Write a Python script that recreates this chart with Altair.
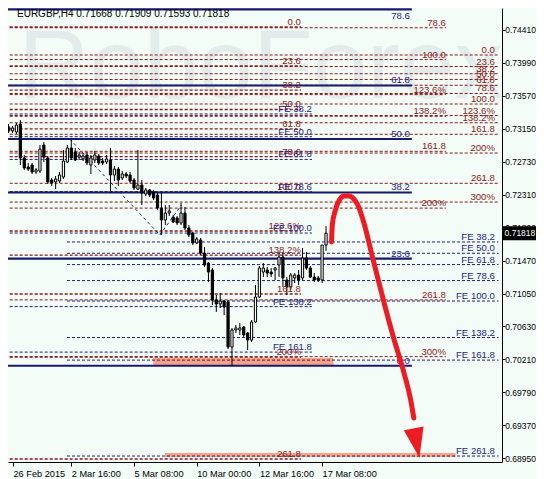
import altair as alt
import pandas as pd

FONT = "Liberation Sans, Arial, sans-serif"
BG = "#F3FCF7"
MAROON = "#8E1414"
MAROON_TXT = "#8B1A1A"
NAVY = "#191970"
NAVY_D = "#1E1E86"
RED = "#EC1C24"
SALMON = "#FBA283"

symbol = "EURGBP,H4"
ohlc_last = ["0.71668", "0.71909", "0.71593", "0.71818"]
last_price = 0.71818

# ---------------- candles (H4 bars, index 0 = 26 Feb 2015) ----------------
opens = [0.73173, 0.73122, 0.73109, 0.73211, 0.72778, 0.72663, 0.72688, 0.72599, 0.72612, 0.72943,
         0.72778, 0.72497, 0.72472, 0.72484, 0.72535, 0.72727, 0.72905, 0.72854, 0.72790, 0.72765,
         0.72816, 0.72688, 0.72752, 0.72803, 0.72739, 0.72727, 0.72752, 0.72561, 0.72637, 0.72523,
         0.72574, 0.72561, 0.72497, 0.72382, 0.72433, 0.72319, 0.72370, 0.72344, 0.72306, 0.72140,
         0.71987, 0.72076, 0.72025, 0.72013, 0.71949, 0.72076, 0.71885, 0.71821, 0.71694, 0.71732,
         0.71566, 0.71439, 0.71350, 0.70967, 0.70916, 0.70954, 0.70942, 0.70368, 0.70585, 0.70585,
         0.70623, 0.70547, 0.70457, 0.70687, 0.71005, 0.71324, 0.71350, 0.71324, 0.71350, 0.71413,
         0.71515, 0.71222, 0.71133, 0.71248, 0.71286, 0.71248, 0.71503, 0.71375, 0.71260, 0.71248,
         0.71222, 0.71668]
highs = [0.73211, 0.73186, 0.73224, 0.73262, 0.72816, 0.72714, 0.72714, 0.72650, 0.72943, 0.72981,
         0.72803, 0.72523, 0.72548, 0.72599, 0.72880, 0.72943, 0.73007, 0.72905, 0.72854, 0.72841,
         0.72854, 0.72816, 0.72867, 0.72829, 0.72778, 0.72816, 0.72905, 0.72676, 0.72663, 0.72612,
         0.72599, 0.72599, 0.72523, 0.72880, 0.72497, 0.72395, 0.72382, 0.72370, 0.72331, 0.72344,
         0.72178, 0.72178, 0.72051, 0.72038, 0.72204, 0.72153, 0.71923, 0.71834, 0.71770, 0.71758,
         0.71643, 0.71452, 0.71375, 0.71031, 0.71056, 0.70967, 0.70967, 0.70611, 0.70649, 0.70674,
         0.70636, 0.70560, 0.70712, 0.71158, 0.71401, 0.71439, 0.71388, 0.71375, 0.71388, 0.71579,
         0.71579, 0.71260, 0.71311, 0.71311, 0.71350, 0.71630, 0.71579, 0.71401, 0.71311, 0.71273,
         0.71668, 0.71909]
lows = [0.73096, 0.73096, 0.73084, 0.72688, 0.72625, 0.72612, 0.72574, 0.72574, 0.72586, 0.72727,
        0.72446, 0.72421, 0.72382, 0.72459, 0.72510, 0.72714, 0.72752, 0.72739, 0.72752, 0.72739,
        0.72688, 0.72574, 0.72714, 0.72688, 0.72688, 0.72701, 0.72331, 0.72484, 0.72421, 0.72497,
        0.72523, 0.72459, 0.72370, 0.72370, 0.72178, 0.72293, 0.72280, 0.72242, 0.72115, 0.71796,
        0.71923, 0.72038, 0.71949, 0.71923, 0.71923, 0.71860, 0.71770, 0.71668, 0.71681, 0.71541,
        0.71388, 0.71197, 0.70903, 0.70814, 0.70865, 0.70776, 0.70343, 0.70126, 0.70547, 0.70521,
        0.70496, 0.70330, 0.70432, 0.70674, 0.70993, 0.71260, 0.71260, 0.71260, 0.71222, 0.71260,
        0.71133, 0.71031, 0.71095, 0.71184, 0.71158, 0.71222, 0.71350, 0.71248, 0.71197, 0.71197,
        0.71184, 0.71593]
closes = [0.73122, 0.73160, 0.73198, 0.72778, 0.72650, 0.72637, 0.72599, 0.72625, 0.72892, 0.72790,
          0.72472, 0.72459, 0.72510, 0.72561, 0.72739, 0.72905, 0.72778, 0.72752, 0.72816, 0.72803,
          0.72714, 0.72778, 0.72816, 0.72714, 0.72714, 0.72765, 0.72561, 0.72637, 0.72497, 0.72574,
          0.72548, 0.72484, 0.72395, 0.72433, 0.72331, 0.72370, 0.72306, 0.72268, 0.72140, 0.71987,
          0.72076, 0.72102, 0.71962, 0.71949, 0.72076, 0.71885, 0.71796, 0.71694, 0.71745, 0.71566,
          0.71413, 0.71324, 0.70967, 0.70916, 0.70954, 0.70878, 0.70368, 0.70585, 0.70611, 0.70611,
          0.70521, 0.70457, 0.70687, 0.71005, 0.71375, 0.71375, 0.71311, 0.71299, 0.71375, 0.71515,
          0.71248, 0.71133, 0.71286, 0.71286, 0.71222, 0.71503, 0.71375, 0.71260, 0.71222, 0.71222,
          0.71668, 0.71818]

# ---------------- axes ----------------
tick_bars = [1.125, 16, 32, 48, 64, 80]
tick_labels = ["26 Feb 2015", "2 Mar 16:00", "5 Mar 08:00", "10 Mar 00:00", "12 Mar 16:00", "17 Mar 08:00"]
price_ticks = [0.74410, 0.73990, 0.73570, 0.73150, 0.72730, 0.72310, 0.71890,
               0.71470, 0.71050, 0.70630, 0.70210, 0.69790, 0.69370, 0.68950]

# ---------------- Fibonacci retracement A (full width) ----------------
fibA_labels = ["0.0", "23.6", "38.2", "50.0", "61.8", "78.6", "100.0", "123.6%", "138.2%", "161.8", "200%", "261.8", "300%"]
fibA_prices = [0.74091, 0.73944, 0.73852, 0.73779, 0.73705, 0.73600, 0.73466, 0.73319, 0.73227, 0.73080, 0.72841, 0.72455, 0.72216]
fibA_span = [-1, 125, 124.1]

# ---------------- Fibonacci retracement B ----------------
fibB_labels = ["0.0", "23.6", "38.2", "50.0", "61.8", "78.6", "100.0", "123.6%", "138.2%", "161.8", "200%", "261.8"]
fibB_prices = [0.74448, 0.73951, 0.73644, 0.73396, 0.73148, 0.72794, 0.72344, 0.71847, 0.71540, 0.71044, 0.70240, 0.68940]
fibB_span = [-1, 74.6, 74.6]

# ---------------- Fibonacci retracement C ----------------
fibC_labels = ["78.6", "100.0", "123.6%", "138.2%", "161.8", "200%", "261.8", "300%"]
fibC_prices = [0.74438, 0.74033, 0.73586, 0.73310, 0.72863, 0.72139, 0.70969, 0.70245]
fibC_span = [-1, 111.6, 111.6]

# ---------------- Fibonacci retracement D (solid navy) ----------------
fibD_labels = ["0.0", "23.6", "38.2", "50.0", "61.8", "78.6"]
fibD_prices = [0.70129, 0.71494, 0.72338, 0.73020, 0.73702, 0.74673]
fibD_span = [-1, 102.9, 102.4]

# ---------------- Fibonacci expansion 1 ----------------
fe1_labels = ["FE 38.2", "FE 50.0", "FE 61.8", "FE 78.6", "FE 100.0", "FE 138.2", "FE 161.8", "FE 261.8"]
fe1_prices = [0.71707, 0.71563, 0.71419, 0.71215, 0.70954, 0.70489, 0.70201, 0.68978]
fe1_span = [14.9, 125, 124.1]

# ---------------- Fibonacci expansion 2 ----------------
fe2_labels = ["FE 38.2", "FE 50.0", "FE 61.8", "FE 78.6", "FE 100.0", "FE 138.2", "FE 161.8"]
fe2_prices = [0.73339, 0.73049, 0.72759, 0.72347, 0.71821, 0.70883, 0.70303]
fe2_span = [-1, 77.4, 77.4]

# expansion trend lines (dashed)
diag_seg = [1, 1, 2, 2]
diag_bar = [15.6, 38.6, 38.6, 44.1]
diag_price = [0.73020, 0.71796, 0.71796, 0.72178]

# target zones
zone_x1 = [36.9, 39.9]
zone_x2 = [82.9, 114.1]
zone_top = [0.70228, 0.69016]
zone_bottom = [0.70138, 0.68965]

# forecast arrow
arrow_bar = [82.4, 82.6, 83.4, 84.4, 85.6, 86.9, 88.1, 89.1, 90.6, 92.9, 96.1, 98.4, 100.9, 102.6, 103.4]
arrow_price = [0.71707, 0.71923, 0.72115, 0.72242, 0.72293, 0.72293, 0.72255, 0.72178, 0.71962,
               0.71503, 0.70878, 0.70457, 0.70036, 0.69692, 0.69463]
head_bar = [104.1]
head_price = [0.69144]

# ---------------- build ----------------
XS = alt.Scale(domain=[1.125, 124.625], nice=False, zero=False)
YS = alt.Scale(domain=[0.68902, 0.74690], nice=False, zero=False)

expr = " : ".join(f"datum.value == {v} ? '{l}'" for v, l in zip(tick_bars, tick_labels)) + " : ''"

XAX = alt.Axis(values=tick_bars, labelExpr=expr, orient="bottom", title=None, grid=False,
               domainColor="black", tickColor="black", tickSize=4, labelColor="black",
               labelFont=FONT, labelFontSize=9.2, labelAlign="left", labelBaseline="alphabetic",
               labelFlush=False, labelOverlap=False, labelPadding=10)
YAX = alt.Axis(values=price_ticks, format=".5f", orient="right", title=None, grid=False,
               domainColor="black", tickColor="black", tickSize=3, labelColor="black",
               labelFont=FONT, labelFontSize=8.5, labelOverlap=False, labelFlush=False,
               labelAlign="right", labelPadding=30.5)


def X(field):
    return alt.X(field, scale=XS, axis=XAX)


def Y(field):
    return alt.Y(field, scale=YS, axis=YAX)


def hset(prices, labels, span, color, tcolor, dash, width, below=()):
    df = pd.DataFrame({"price": prices, "label": labels})
    df["x1"] = span[0]
    df["x2"] = span[1]
    df["lx"] = span[2]
    base = alt.Chart(df)
    if dash:
        rule = base.mark_rule(color=color, strokeDash=dash, strokeWidth=width, clip=True)
    else:
        rule = base.mark_rule(color=color, strokeWidth=width, clip=True)
    rule = rule.encode(x=X("x1:Q"), x2="x2:Q", y=Y("price:Q"))
    above_df = df[~df["label"].isin(below)]
    below_df = df[df["label"].isin(below)]
    text = alt.Chart(above_df).mark_text(align="right", baseline="bottom", color=tcolor, font=FONT,
                                         fontSize=9.6, clip=True).encode(
        x=X("lx:Q"), y=Y("price:Q"), text="label:N")
    layers = [text]
    if len(below_df):
        # label whose line sits at the very top edge: placed just under the line so it stays visible
        layers.append(alt.Chart(below_df).mark_text(align="right", baseline="top", dy=1.5,
                                                    color=tcolor, font=FONT, fontSize=9.6,
                                                    clip=True).encode(
            x=X("lx:Q"), y=Y("price:Q"), text="label:N"))
    return rule, alt.layer(*layers)


candles = pd.DataFrame({"bar": list(range(len(opens))), "open": opens, "high": highs,
                        "low": lows, "close": closes})

zones = pd.DataFrame({"x1": zone_x1, "x2": zone_x2, "top": zone_top, "bottom": zone_bottom})
zone_layer = alt.Chart(zones).mark_rect(color=SALMON, clip=True).encode(
    x=X("x1:Q"), x2="x2:Q", y=Y("top:Q"), y2="bottom:Q")

watermark = alt.Chart(pd.DataFrame({"t": ["RoboForex"]})).mark_text(
    font=FONT, fontSize=98, color="#E2EDEB", align="center", baseline="alphabetic").encode(
    x=alt.value(253), y=alt.value(90), text="t:N")

rA, tA = hset(fibA_prices, fibA_labels, fibA_span, MAROON, MAROON_TXT, [3, 2], 1)
rB, tB = hset(fibB_prices, fibB_labels, fibB_span, MAROON, MAROON_TXT, [3, 2], 1.3)
rC, tC = hset(fibC_prices, fibC_labels, fibC_span, MAROON, MAROON_TXT, [3, 2], 1)
rD, tD = hset(fibD_prices, fibD_labels, fibD_span, NAVY, NAVY_D, None, 2.2, below=("78.6",))
rE1, tE1 = hset(fe1_prices, fe1_labels, fe1_span, NAVY_D, NAVY_D, [3, 2], 1)
rE2, tE2 = hset(fe2_prices, fe2_labels, fe2_span, NAVY_D, NAVY_D, [3, 2], 1)

diag = alt.Chart(pd.DataFrame({"seg": diag_seg, "bar": diag_bar, "price": diag_price})).mark_line(
    color=NAVY_D, strokeDash=[3, 3], strokeWidth=1, clip=True).encode(
    x=X("bar:Q"), y=Y("price:Q"), detail="seg:N")

wick = alt.Chart(candles).mark_rule(color="black", strokeWidth=1, clip=True).encode(
    x=X("bar:Q"), y=Y("low:Q"), y2="high:Q")

body = alt.Chart(candles).mark_bar(size=2.2, stroke="black", strokeWidth=1, clip=True).encode(
    x=X("bar:Q"), y=Y("open:Q"), y2="close:Q",
    color=alt.condition("datum.close >= datum.open", alt.value("white"), alt.value("black")))

arrow = alt.Chart(pd.DataFrame({"bar": arrow_bar, "price": arrow_price})).mark_line(
    color=RED, strokeWidth=5, strokeCap="round", interpolate="monotone", clip=True).encode(
    x=X("bar:Q"), y=Y("price:Q"))

head = alt.Chart(pd.DataFrame({"bar": head_bar, "price": head_price})).mark_point(
    shape="M -0.67 -1 L 0.67 -1 L 0 1 Z", size=900, filled=True, color=RED, opacity=1,
    angle=349).encode(x=X("bar:Q"), y=Y("price:Q"))

title = alt.Chart(pd.DataFrame({"t": [symbol + "  " + " ".join(ohlc_last)]})).mark_text(
    font=FONT, fontSize=10, color="black", align="left", baseline="top").encode(
    x=alt.value(9), y=alt.value(1), text="t:N")

price_df = pd.DataFrame({"price": [last_price], "t": [f"{last_price:.5f}"]})
pbox = alt.Chart(price_df).mark_point(
    shape="M -1 -0.424 L 1 -0.424 L 1 0.424 L -1 0.424 Z", size=33 * 33, filled=True,
    color="black", opacity=1).encode(x=alt.value(511.5), y=Y("price:Q"))
ptext = alt.Chart(price_df).mark_text(font=FONT, fontSize=8.5, color="white", align="right",
                                      baseline="middle").encode(
    x=alt.value(527.3), y=Y("price:Q"), text="t:N")

chart = alt.layer(
    watermark, zone_layer,
    rA, rB, rC, rE1, rE2, rD, diag,
    wick, body,
    tA, tB, tC, tD, tE1, tE2,
    arrow, head, title, pbox, ptext
).properties(
    width=494, height=454,
    autosize=alt.AutoSizeParams(type="none"),
    padding={"left": 0, "top": 0, "right": 34, "bottom": 17},
    background=BG,
).configure_view(stroke=None, fill=BG)

chart.save("out.html", embed_options={"renderer": "svg", "actions": False})
